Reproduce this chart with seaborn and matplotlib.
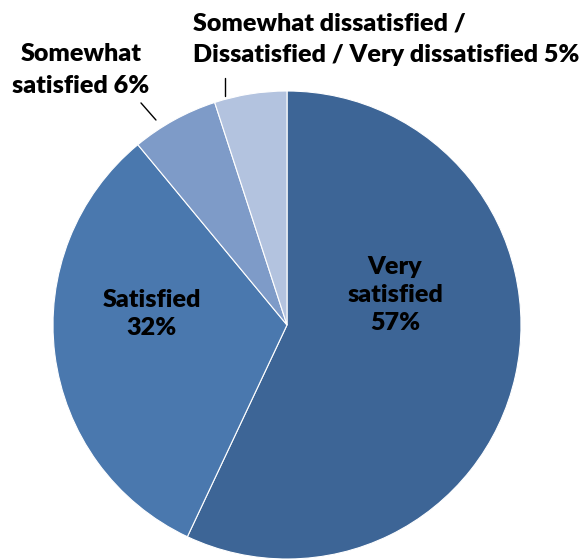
import seaborn as sns
import matplotlib.pyplot as plt

# 資料
categories = ['Very satisfied', 'Satisfied', 'Somewhat satisfied',
              'Somewhat dissatisfied / Dissatisfied / Very dissatisfied']
shares = [57, 32, 6, 5]
colors = ['#3D6596', '#4A78AE', '#7E9BC8', '#B3C3DF']

sns.set_style('white')
plt.rcParams['font.family'] = ['Lato', 'DejaVu Sans']

fig = plt.figure(figsize=(5.87, 5.6), dpi=100)
# 圓心約 (287,325) 半徑約 234 px
ax = fig.add_axes([53 / 587, 1 / 560, 468 / 587, 468 / 560])
wedges, _ = ax.pie(shares, colors=colors, startangle=90, counterclock=False,
                   radius=1, wedgeprops=dict(edgecolor='white', linewidth=0.8))
ax.set_xlim(-1, 1)
ax.set_ylim(-1, 1)
ax.set_aspect('equal')
ax.axis('off')

fs = 18.1
txt = dict(fontsize=fs, fontweight='heavy', color='black')
ax.text(0.462, 0.128, f'Very\nsatisfied\n{shares[0]}%', ha='center', va='center',
        linespacing=1.34, **txt)
ax.text(-0.577, 0.047, f'Satisfied\n{shares[1]}%', ha='center', va='center',
        linespacing=1.34, **txt)
ax.text(-0.88, 1.09, f'Somewhat\nsatisfied {shares[2]}%', ha='center', va='center',
        linespacing=1.53, **txt)
ax.text(-0.402, 1.222, f'Somewhat dissatisfied /\nDissatisfied / Very dissatisfied {shares[3]}%',
        ha='left', va='center', linespacing=1.53, **txt)

# 引導線
ax.plot([-0.624, -0.560], [0.949, 0.876], color='black', lw=1, clip_on=False)
ax.plot([-0.265, -0.265], [1.056, 0.979], color='black', lw=1, clip_on=False)

fig.savefig('out.png', dpi=100)
